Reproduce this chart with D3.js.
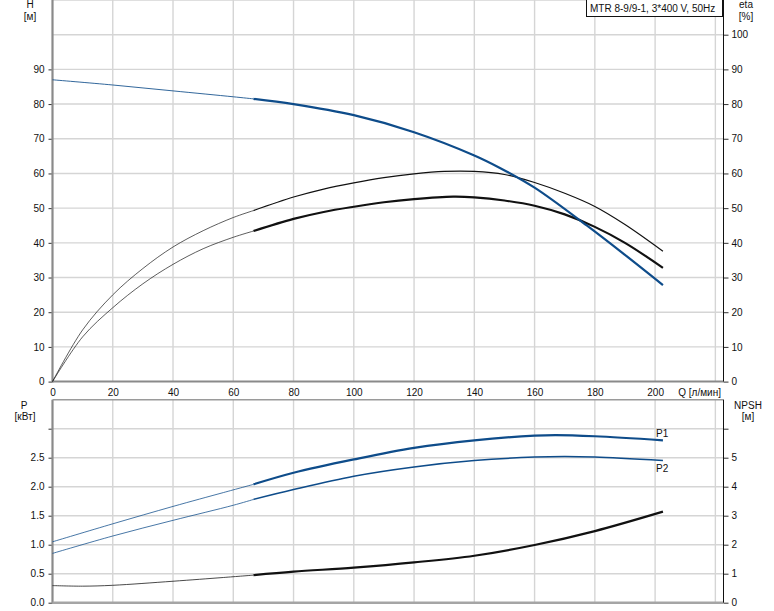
<!DOCTYPE html>
<html><head><meta charset="utf-8">
<script src="https://cdn.jsdelivr.net/npm/d3@7"></script>
<style>body{margin:0;background:#fff}svg{display:block}text{font-family:"Liberation Sans",Arial,sans-serif;font-size:10px;fill:#111}</style>
</head><body>
<script>
// ---- data ----
const xTicks = [0,20,40,60,80,100,120,140,160,180,200];
const hTicksLeft = [0,10,20,30,40,50,60,70,80,90];
const etaTicksRight = [0,10,20,30,40,50,60,70,80,90,100];
const pTicksLeft = [0,0.5,1.0,1.5,2.0,2.5,3.0];
const pTickLabels = ["0.0","0.5","1.0","1.5","2.0","2.5",""];
const npshTicksRight = [0,1,2,3,4,5,6];
const npshTickLabels = ["0","1","2","3","4","5",""];
const qSplit = 66.7;

const qH   = [0,20,40,60,66.7,80,100,120,140,148.5,160,177.3,190,202.6];
const H    = [87.0,85.5,83.8,82.1,81.5,80.0,76.8,71.9,65.2,61.6,55.9,45.0,36.5,27.8];

const qEta1 = [0,10,20,30,40,50,60,66.7,80,90,100,110,120,130,140,150,160,170,180,190,202.6];
const eta1  = [0,14.9,25.0,32.6,38.8,43.5,47.3,49.3,53.2,55.5,57.3,58.8,59.9,60.6,60.6,59.7,57.4,54.3,50.5,45.3,37.6];

const qEta2 = [0,10,20,30,40,50,60,66.7,80,90,100,110,120,133,140,150,160,170,180,190,202.6];
const eta2  = [0,12.9,21.3,28.2,33.8,38.3,41.6,43.4,46.9,48.9,50.4,51.7,52.6,53.3,53.1,52.2,50.7,48.2,44.6,40.0,32.8];

const qP1 = [0,20,40,56.8,66.7,80,100,120,140,160,167,180,202.6];
const P1  = [1.05,1.36,1.66,1.90,2.04,2.24,2.47,2.67,2.80,2.88,2.89,2.87,2.80];

const qP2 = [0,20,40,60,66.7,80,100,120,140,160,170,180,202.6];
const P2  = [0.85,1.15,1.42,1.68,1.78,1.95,2.18,2.34,2.45,2.51,2.52,2.51,2.45];

const qN = [0,10,20,40,56.8,66.7,80,100,120,140,160,180,202.6];
const NPSH = [0.59,0.57,0.60,0.74,0.87,0.95,1.07,1.21,1.39,1.62,1.99,2.47,3.14];

const legendText = "MTR 8-9/9-1, 3*400 V, 50Hz";

// ---- scales ----
const W = 774, Hh = 611;
const svg = d3.select("body").append("svg").attr("width", W).attr("height", Hh);
const x = d3.scaleLinear().domain([0, 222.7]).range([52.5, 723.5]);
const yTop = d3.scaleLinear().domain([0, 110]).range([381.6, 0]);
const yP = d3.scaleLinear().domain([0, 3.5]).range([602.7, 399.7]);
const yN = d3.scaleLinear().domain([0, 7]).range([602.7, 399.7]);
const blue = "#0e4c8a";
const gridC = "#d5d5d5";

// ---- grids ----
function vgrid(y0, y1) {
  svg.append("g").selectAll("line").data(d3.range(20, 221, 20)).join("line")
    .attr("x1", d => x(d)).attr("x2", d => x(d)).attr("y1", y0).attr("y2", y1)
    .attr("stroke", gridC).attr("stroke-width", 1.4);
}
vgrid(0, yTop(0));
vgrid(yP(3.5), yP(0));
svg.append("g").selectAll("line").data(d3.range(10, 111, 10)).join("line")
  .attr("x1", x(0)).attr("x2", x(222.7)).attr("y1", d => yTop(d)).attr("y2", d => yTop(d))
  .attr("stroke", gridC).attr("stroke-width", 1.4);
svg.append("g").selectAll("line").data([0.5,1,1.5,2,2.5,3]).join("line")
  .attr("x1", x(0)).attr("x2", x(222.7)).attr("y1", d => yP(d)).attr("y2", d => yP(d))
  .attr("stroke", gridC).attr("stroke-width", 1.4);

// ---- axes ----
const axL = d3.axisLeft(yTop).tickValues(hTicksLeft).tickSize(4).tickPadding(4);
const gL = svg.append("g").attr("transform", `translate(${x(0)},0)`).call(axL);
const axR = d3.axisRight(yTop).tickValues(etaTicksRight).tickSize(5).tickPadding(3);
const gR = svg.append("g").attr("transform", `translate(${x(222.7)},0)`).call(axR);
const axPL = d3.axisLeft(yP).tickValues(pTicksLeft).tickSize(4).tickPadding(4).tickFormat((d,i)=>pTickLabels[i]);
const gPL = svg.append("g").attr("transform", `translate(${x(0)},0)`).call(axPL);
const axNR = d3.axisRight(yN).tickValues(npshTicksRight).tickSize(5).tickPadding(3).tickFormat((d,i)=>npshTickLabels[i]);
const gNR = svg.append("g").attr("transform", `translate(${x(222.7)},0)`).call(axNR);
const axX = d3.axisBottom(x).tickValues(xTicks).tickSize(0).tickPadding(7);
const gX = svg.append("g").attr("transform", `translate(0,${yTop(0)})`).call(axX);
[gL,gR,gPL,gNR,gX].forEach(g => {
  g.selectAll("text").attr("font-size", 10).attr("font-family", '"Liberation Sans",Arial,sans-serif').attr("fill", "#111");
  g.selectAll(".tick line").attr("stroke", "#333");
  g.select(".domain").remove();
});
// axis lines
svg.append("line").attr("x1", x(0)).attr("x2", x(0)).attr("y1", 0).attr("y2", yTop(0)+1).attr("stroke", "#8a8a8a").attr("stroke-width", 2.2);
svg.append("line").attr("x1", x(0)).attr("x2", x(0)).attr("y1", yP(3.5)).attr("y2", yP(0)+1).attr("stroke", "#8a8a8a").attr("stroke-width", 2.2);
svg.append("line").attr("x1", x(0)).attr("x2", x(222.7)).attr("y1", yTop(0)).attr("y2", yTop(0)).attr("stroke", "#8a8a8a").attr("stroke-width", 2);
svg.append("line").attr("x1", x(0)).attr("x2", x(222.7)).attr("y1", yP(0)).attr("y2", yP(0)).attr("stroke", "#a5a5a5").attr("stroke-width", 2.4);
svg.append("line").attr("x1", x(0)).attr("x2", x(222.7)).attr("y1", yP(3.5)).attr("y2", yP(3.5)).attr("stroke", "#9a9a9a").attr("stroke-width", 1.4);
svg.append("line").attr("x1", x(222.7)).attr("x2", x(222.7)).attr("y1", 0).attr("y2", yTop(0)).attr("stroke", "#111").attr("stroke-width", 1);
svg.append("line").attr("x1", x(222.7)).attr("x2", x(222.7)).attr("y1", yP(3.5)).attr("y2", yP(0)).attr("stroke", "#111").attr("stroke-width", 1);

// ---- axis titles ----
function txt(s, tx, ty, anchor, color, fs) {
  svg.append("text").attr("x", tx).attr("y", ty).attr("text-anchor", anchor || "middle")
    .attr("fill", color || "#111").attr("font-size", fs || 10).text(s);
}
txt("H", 30, 8, "middle", "#111", 10.5); txt("[м]", 30, 20, "middle", "#111", 10.5);
txt("eta", 746, 8, "middle", "#111", 10.5); txt("[%]", 746, 20, "middle", "#111", 10.5);
txt("P", 24, 409, "middle", "#111", 10.5); txt("[кВт]", 25, 420, "middle", "#111", 10.5);
txt("NPSH", 748, 409, "middle", "#111", 10.5); txt("[м]", 748, 420, "middle", "#111", 10.5);
txt("Q [л/мин]", 721, yTop(0)+14, "end", "#111", 10.3);

// ---- legend box ----
svg.append("rect").attr("x", 586.5).attr("y", -1).attr("width", 136).attr("height", 17.5).attr("fill", "#fff").attr("stroke", "#111").attr("stroke-width", 1);
txt(legendText, 590, 12, "start", "#111", 10.4);

// ---- curves ----
function drawCurve(qs, vs, ys, color, wThin, wThick) {
  const pts = qs.map((q, i) => [q, vs[i]]);
  const line = d3.line().x(d => x(d[0])).y(d => ys(d[1])).curve(d3.curveCatmullRom.alpha(0.5));
  svg.append("path").attr("d", line(pts.filter(p => p[0] <= qSplit))).attr("fill", "none").attr("stroke", color).attr("stroke-width", wThin).attr("stroke-opacity", 0.85);
  svg.append("path").attr("d", line(pts.filter(p => p[0] >= qSplit))).attr("fill", "none").attr("stroke", color).attr("stroke-width", wThick);
}
drawCurve(qEta1, eta1, yTop, "#111", 0.8, 1.2);
drawCurve(qEta2, eta2, yTop, "#111", 0.8, 2.2);
drawCurve(qH, H, yTop, blue, 1, 2.2);
drawCurve(qP1, P1, yP, blue, 0.9, 2.2);
drawCurve(qP2, P2, yP, blue, 0.9, 1.5);
drawCurve(qN, NPSH, yN, "#111", 0.9, 2.2);

txt("P1", 656, 437, "start", blue, 10.5);
txt("P2", 656, 472, "start", blue, 10.5);
</script>
</body></html>
